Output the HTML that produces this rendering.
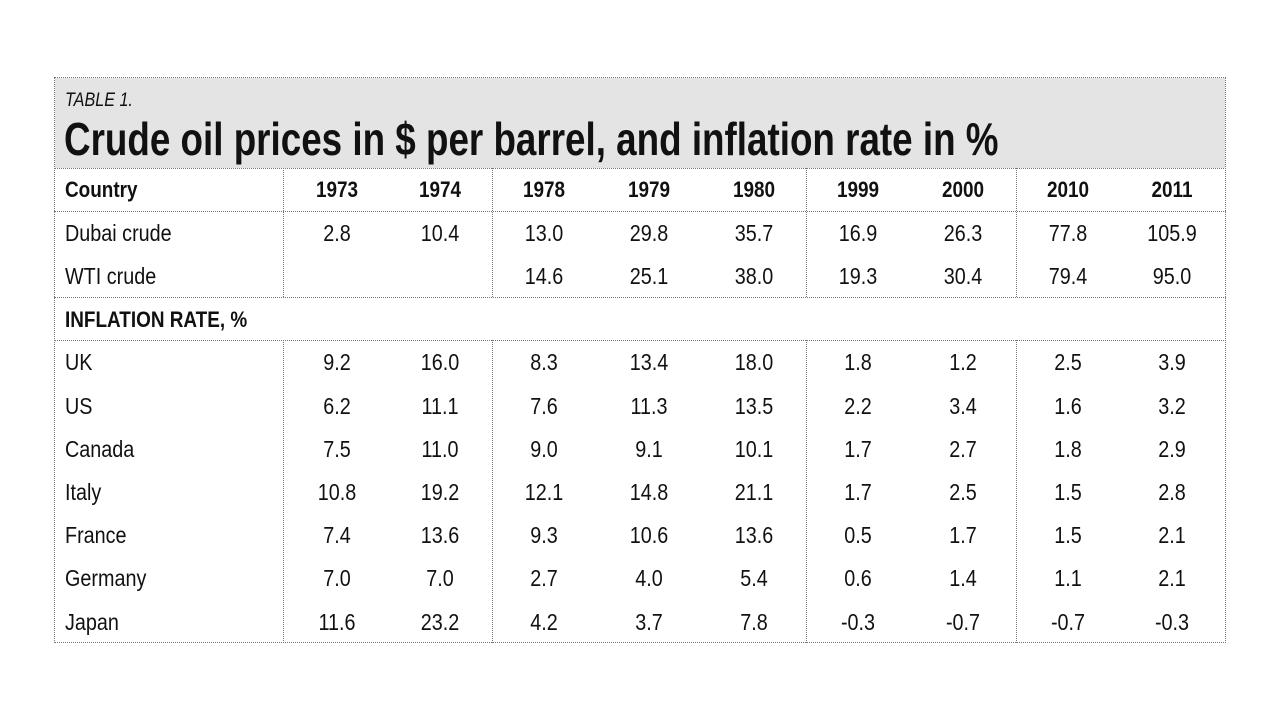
<!DOCTYPE html>
<html><head><meta charset="utf-8"><style>
body{margin:0;width:1280px;height:720px;background:#fff;position:relative;overflow:hidden;font-family:"Liberation Sans Narrow","Liberation Sans",sans-serif;color:#111}
.box{position:absolute;left:54px;top:77px;width:1172px;height:566px;border:1px dotted #777;box-sizing:border-box}
.head{position:absolute;left:55px;top:78px;width:1170px;height:90px;background:#e4e4e4}
.hl{position:absolute;left:54px;width:1172px;border-top:1px dotted #777;height:0}
.vl{position:absolute;border-left:1px dotted #777;width:0}
.t{position:absolute;white-space:nowrap;transform-origin:left center;line-height:1}
.c{position:absolute;white-space:nowrap;line-height:1;transform:translateX(-50%) scaleX(0.86)}
</style></head><body>
<div class="head"></div>
<div class="box"></div>
<div class="t" style="left:65px;top:91px;font-size:19px;font-style:italic;transform:scaleX(0.85)">TABLE 1.</div>
<div class="t" style="left:64px;top:116px;font-size:46px;font-weight:bold;transform:scaleX(0.80)">Crude oil prices in $ per barrel, and inflation rate in %</div>
<div id="grid"></div>
<script>
const years=["1973","1974","1978","1979","1980","1999","2000","2010","2011"];
const oilLabels=["Dubai crude","WTI crude"];
const oilValues=[["2.8","10.4","13.0","29.8","35.7","16.9","26.3","77.8","105.9"],["","","14.6","25.1","38.0","19.3","30.4","79.4","95.0"]];
const countries=["UK","US","Canada","Italy","France","Germany","Japan"];
const inflation=[
["9.2","16.0","8.3","13.4","18.0","1.8","1.2","2.5","3.9"],
["6.2","11.1","7.6","11.3","13.5","2.2","3.4","1.6","3.2"],
["7.5","11.0","9.0","9.1","10.1","1.7","2.7","1.8","2.9"],
["10.8","19.2","12.1","14.8","21.1","1.7","2.5","1.5","2.8"],
["7.4","13.6","9.3","10.6","13.6","0.5","1.7","1.5","2.1"],
["7.0","7.0","2.7","4.0","5.4","0.6","1.4","1.1","2.1"],
["11.6","23.2","4.2","3.7","7.8","-0.3","-0.7","-0.7","-0.3"]];
const g=document.getElementById('grid');
const colX=[337,440,544,649,754,858,963,1068,1172];
function rowY(i){return 190+i*43.2;}
function add(cls,txt,x,y,size,bold,name){const d=document.createElement('div');d.className=cls;d.textContent=txt;d.style.left=x+'px';d.style.top=(y-size*0.5)+'px';d.style.fontSize=size+'px';if(bold)d.style.fontWeight='bold';if(cls==='t')d.style.transform='scaleX(0.86)';


g.appendChild(d);}
[168,211,297,340].forEach(y=>{const d=document.createElement('div');d.className='hl';d.style.top=y+'px';


g.appendChild(d);});
[[283,168,297],[492,168,297],[806,168,297],[1016,168,297],[283,340,643],[492,340,643],[806,340,643],[1016,340,643]].forEach(v=>{const d=document.createElement('div');d.className='vl';d.style.left=v[0]+'px';d.style.top=v[1]+'px';d.style.height=(v[2]-v[1])+'px';


g.appendChild(d);});
add('t','Country',65,rowY(0),22,true,'country-header');
years.forEach((y,j)=>add('c',y,colX[j],rowY(0),22,true,'year-header-'+y));
oilLabels.forEach((l,i)=>{add('t',l,65,rowY(1+i),23,false,'oil-label');oilValues[i].forEach((v,j)=>{if(v)add('c',v,colX[j],rowY(1+i),23,false,'oil-value');});});
add('t','INFLATION RATE, %',65,rowY(3),22,true,'inflation-section-header');
countries.forEach((c,i)=>{add('t',c,65,rowY(4+i),23,false,'country-label');inflation[i].forEach((v,j)=>add('c',v,colX[j],rowY(4+i),23,false,'inflation-value'));});
</script>
</body></html>
